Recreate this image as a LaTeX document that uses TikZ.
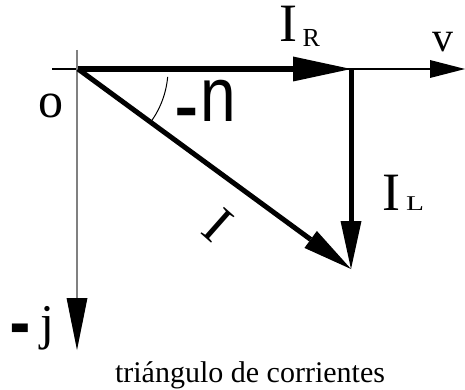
\documentclass[tikz,border=0pt]{standalone}
\usepackage{fontspec}
\setmainfont{Liberation Serif}
\newfontfamily\arialfont{Liberation Sans}
\usetikzlibrary{arrows.meta}
\tikzstyle{axis} = [draw, line width=2pt]
\tikzstyle{vector} = [draw, line width=5.5pt]
\tikzstyle{lbl} = [inner sep=0pt, anchor=base west]
\newcommand{\fs}[1]{\fontsize{#1}{#1}\selectfont}

\begin{document}
\begin{tikzpicture}[x=1pt, y=-1pt]
    \useasboundingbox (0,0) rectangle (465,390);
    % Points
    \coordinate (o) at (78,69);
    \coordinate (ir) at (351,69);
    \coordinate (il) at (351,269);
    \coordinate (vstart) at (52,69);
    \coordinate (vend) at (465,69);
    \coordinate (jstart) at (77,50);
    \coordinate (jend) at (77,350);

    % Axes
    \path [axis, -{Triangle[length=35pt, width=18pt, line width=0pt]}] (vstart) -- (vend);
    \path [draw, gray, line width=1.2pt, -{Triangle[length=52pt, width=21pt, line width=0pt, color=black]}] (jstart) -- (jend);

    % Vectors
    \path [vector, -{Triangle[length=58pt, width=25pt, line width=0pt]}] (o) -- (ir);
    \path [vector, line width=5pt, -{Triangle[length=48pt, width=21pt, line width=0pt]}] (ir) -- (il);
    \path [vector, line width=5pt, -{Triangle[length=50pt, width=21pt, line width=0pt]}] (o) -- (il);

    % Angle
    \draw [line width=1pt] (o) ++(5:90) arc [start angle=5, end angle=36, radius=90];

    % Labels
    \node [lbl] (lir) at (279,42) {\fs{54}I\hspace{5.5pt}\raisebox{-5pt}{\fs{26}R}};
    \node [lbl] (lv) at (432,52) {\fs{42}v};
    \node [lbl] (lo) at (38.5,118) {\fs{50}o};
    \node [lbl] (ln) at (174,122) {\arialfont\fs{64}\raisebox{-16pt}{\scalebox{1.15}[1.5]{-}}\hspace{2pt}\scalebox{1}[1.2]{n}};
    \node [lbl] (lil) at (382,210) {\fs{54}I\hspace{6pt}\fs{21}\scalebox{1.4}[1]{L}};
    \node [inner sep=0pt, rotate=-41.5] (li) at (218,225) {\fs{54}I};
    \node [lbl] (lj) at (9,339) {{\arialfont\fs{50}\raisebox{-18pt}{\scalebox{1.3}[2.2]{-}}}\hspace{10pt}\fs{50}j};
    \node [inner sep=0pt, anchor=base] (caption) at (250,382) {\fs{30}triángulo de corrientes};
\end{tikzpicture}
\end{document}
